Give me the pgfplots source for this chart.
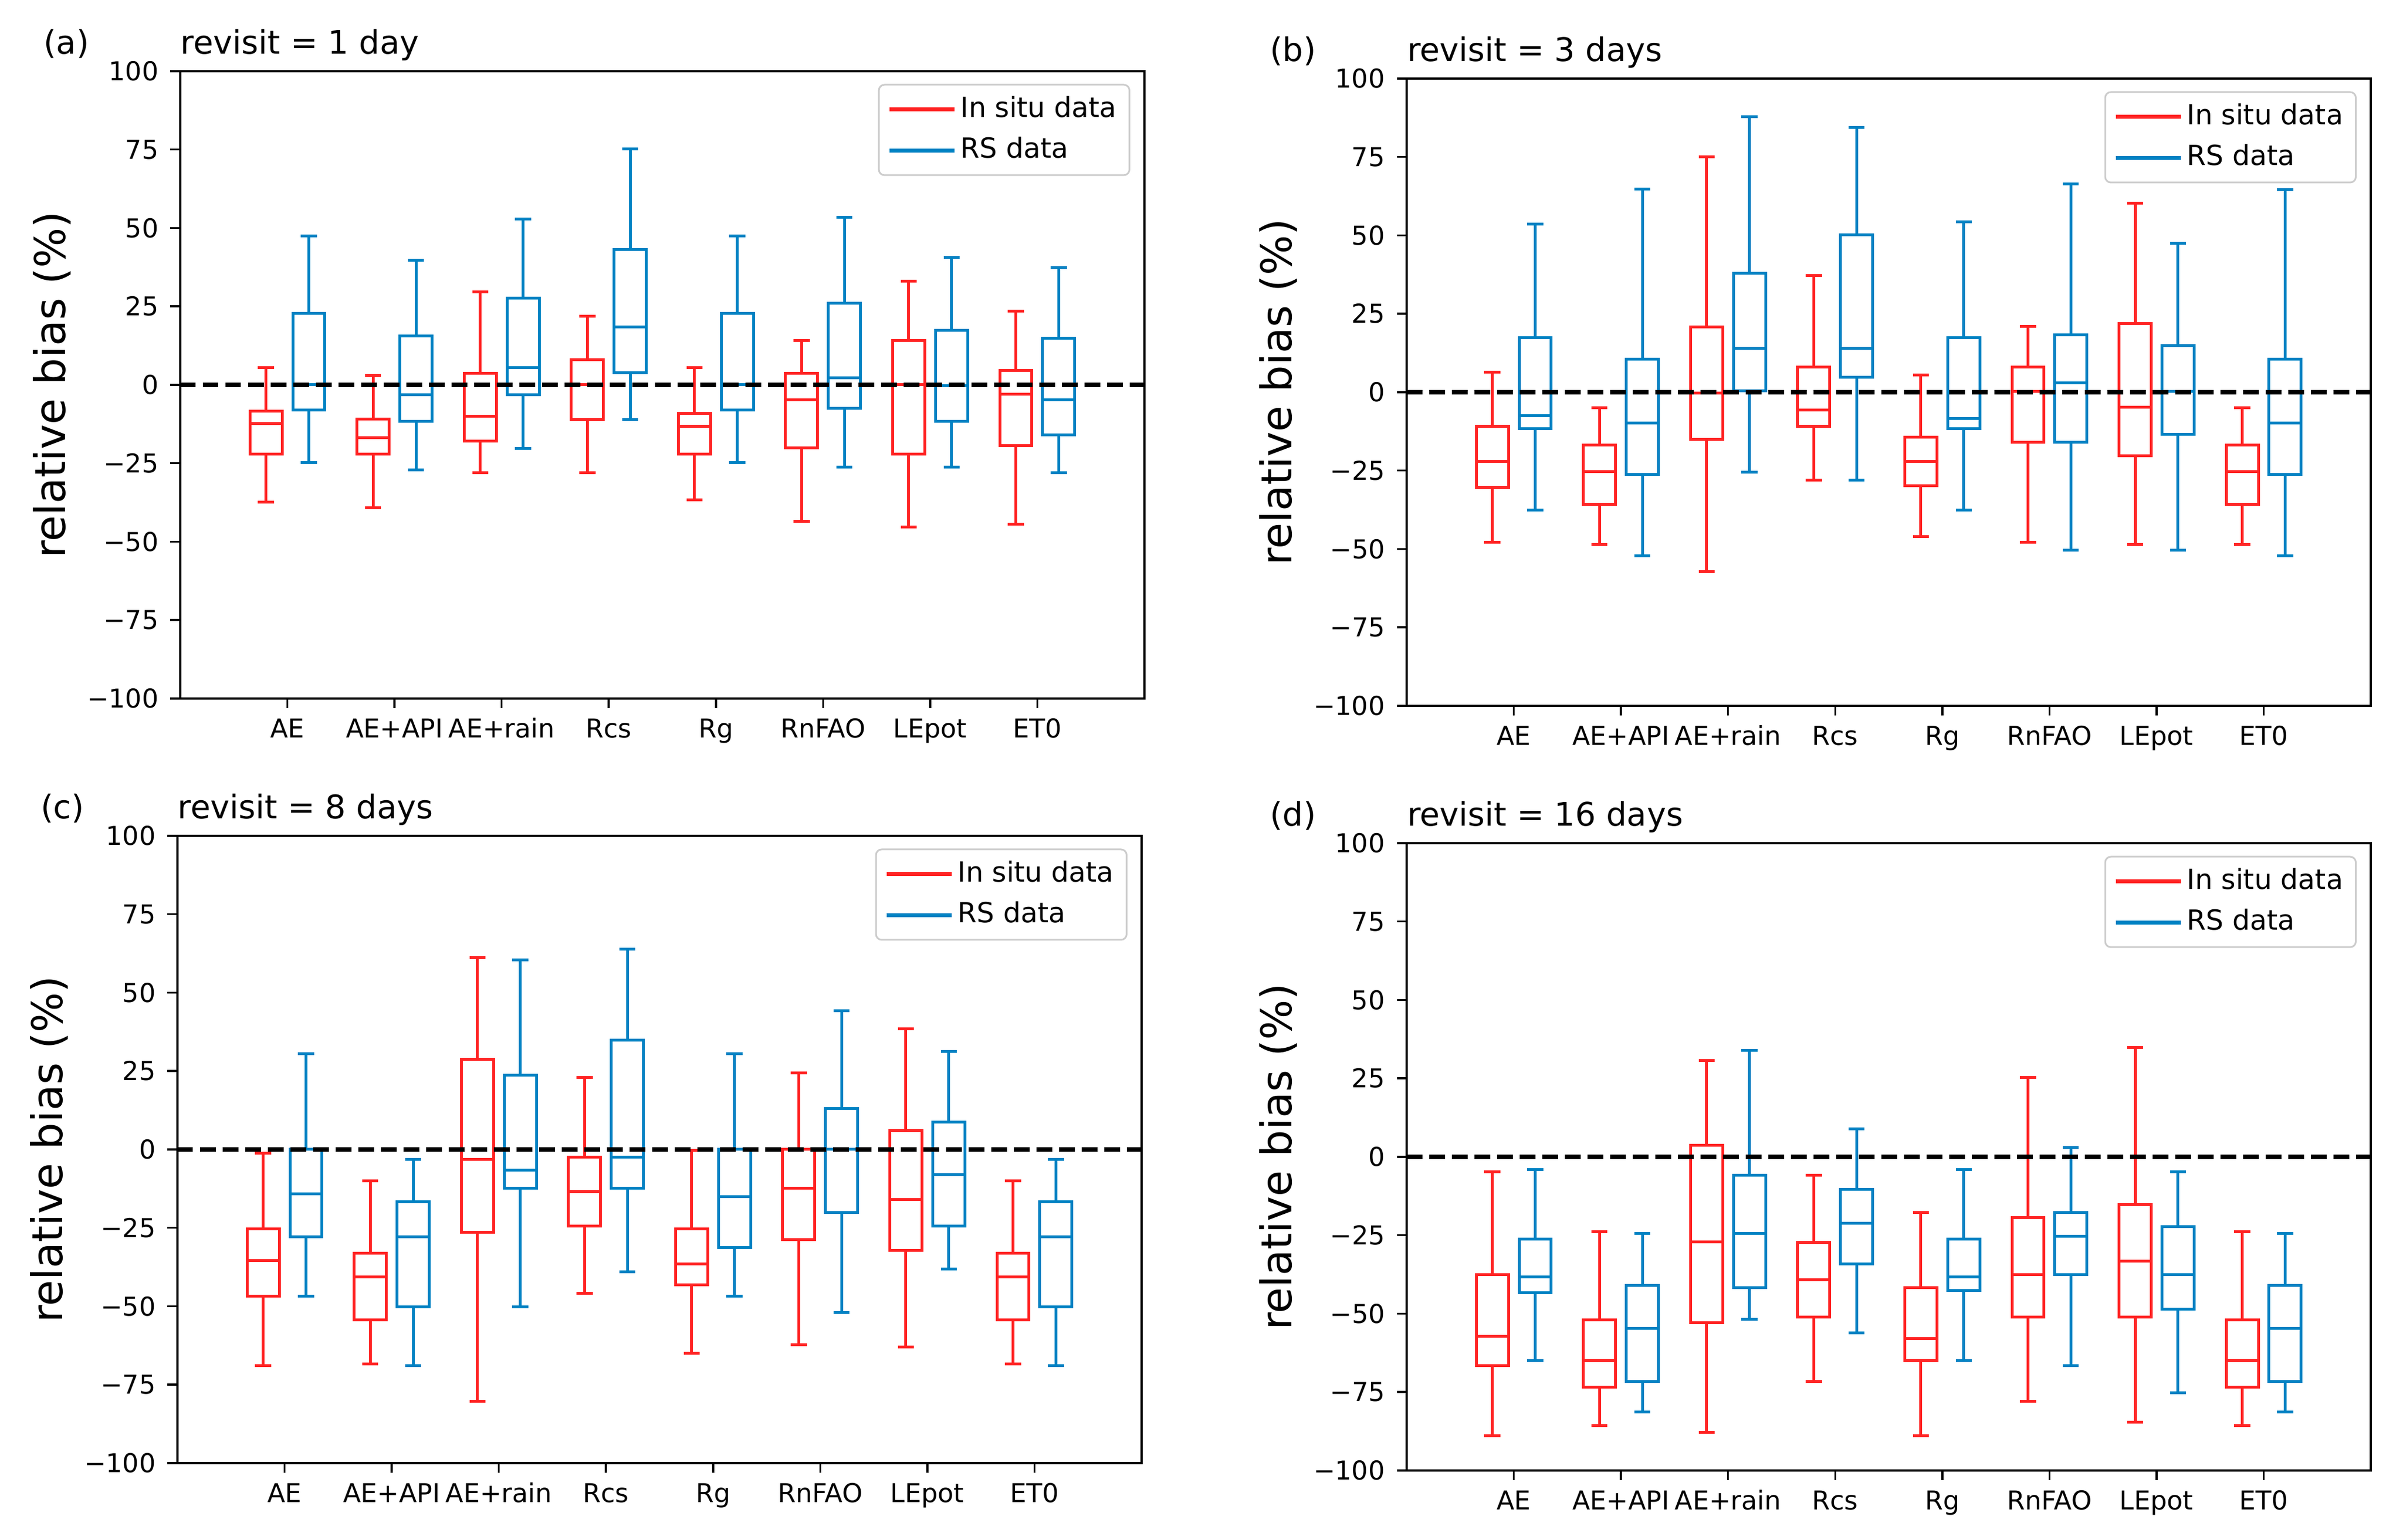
\documentclass[border=0pt]{standalone}
\usepackage{pgfplots}
\pgfplotsset{compat=1.18}
\usepgfplotslibrary{statistics}
\usepackage{fontspec}
\setmainfont{DejaVu Sans}
\definecolor{inred}{RGB}{255,35,35}
\definecolor{rsblue}{RGB}{0,130,195}
\newcommand{\bp}[7]{\addplot[forget plot, draw=#1, line width=1pt, solid, boxplot/draw direction=y, boxplot prepared={draw position=#2, lower whisker=#3, lower quartile=#4, median=#5, upper quartile=#6, upper whisker=#7, box extend=0.3, whisker extend=0.15}] coordinates {};}
\pgfplotsset{
  panel/.style={
    scale only axis, width=341.2pt, height=222pt, anchor=south west,
    xmin=0, xmax=9, ymin=-100, ymax=100,
    clip mode=individual,
    xtick={1,...,8},
    xticklabels={AE,AE+API,AE+rain,Rcs,Rg,RnFAO,LEpot,ET0},
    ytick={-100,-75,-50,-25,0,25,50,75,100},
    yticklabels={−100,−75,−50,−25,0,25,50,75,100},
    tick align=outside, tick pos=left,
    major tick length=3.5pt,
    every tick/.style={black, line width=0.7pt},
    axis line style={black, line width=0.8pt},
    ticklabel style={font=\fontsize{9.2}{11}\selectfont},
    xticklabel style={text height=6.7pt, text depth=2pt, inner ysep=3.6pt},
    yticklabel style={inner xsep=4pt},
    ylabel={relative bias (\%)},
    ylabel style={at={(axis description cs:-0.133,0.5)}, anchor=center, font=\fontsize{15}{18}\selectfont},
    title style={at={(axis description cs:0,1)}, anchor=base west, font=\fontsize{11.5}{14}\selectfont, inner sep=0pt},
    legend style={at={(axis description cs:1,1)}, anchor=north east, xshift=-5pt, yshift=-4.5pt,
      draw=black!20, line width=0.6pt, fill=white, rounded corners=2pt,
      font=\fontsize{9.8}{12}\selectfont, row sep=1pt,
      nodes={inner xsep=1.5pt, inner ysep=2pt, text height=7.5pt, text depth=2pt}},
    legend cell align=left,
    legend image code/.code={\path (0pt,0pt) -- (23pt,0pt); \draw[##1] (0pt,0pt) -- (21pt,0pt);},
  },
  zeroline/.style={forget plot, black, line width=1.6pt, dash pattern=on 5.5pt off 2.5pt},
}
\begin{document}
\begin{tikzpicture}
\useasboundingbox (0,0) rectangle (850.4pt,545pt);
% (a)
\begin{axis}[panel, at={(63.8pt,297.8pt)}, title={revisit = 1 day}]
\bp{inred}{0.8}{-37.4}{-22.1}{-12.3}{-8.3}{5.4}
\bp{inred}{1.8}{-39.2}{-22.1}{-16.8}{-10.9}{3}
\bp{inred}{2.8}{-28.1}{-17.9}{-10}{3.7}{29.7}
\bp{inred}{3.8}{-28.1}{-11}{0}{8}{21.8}
\bp{inred}{4.8}{-36.6}{-22.1}{-13.3}{-9.1}{5.4}
\bp{inred}{5.8}{-43.6}{-20.1}{-4.7}{3.7}{14.1}
\bp{inred}{6.8}{-45.3}{-22.1}{0}{14.1}{33}
\bp{inred}{7.8}{-44.4}{-19.3}{-3}{4.5}{23.5}
\bp{rsblue}{1.2}{-24.7}{-8.1}{0}{22.7}{47.5}
\bp{rsblue}{2.2}{-27.1}{-11.7}{-3.1}{15.6}{39.8}
\bp{rsblue}{3.2}{-20.2}{-3.1}{5.4}{27.7}{52.8}
\bp{rsblue}{4.2}{-11}{3.8}{18.5}{43.1}{75.2}
\bp{rsblue}{5.2}{-24.7}{-8.1}{0}{22.7}{47.5}
\bp{rsblue}{6.2}{-26.3}{-7.5}{2.2}{26}{53.5}
\bp{rsblue}{7.2}{-26.3}{-11.7}{-0.3}{17.4}{40.7}
\bp{rsblue}{8.2}{-28}{-15.9}{-4.7}{14.9}{37.3}
\addplot[zeroline] coordinates {(0,0) (9,0)};
\addlegendimage{inred, line width=1.4pt}\addlegendentry{In situ data}
\addlegendimage{rsblue, line width=1.4pt}\addlegendentry{RS data}
\node[anchor=base west, xshift=-48.5pt, yshift=6pt, font=\fontsize{11.5}{14}\selectfont, inner sep=0pt] at (rel axis cs:0,1) {(a)};
\end{axis}
% (b)
\begin{axis}[panel, at={(497.8pt,295.2pt)}, title={revisit = 3 days}]
\bp{inred}{0.8}{-47.8}{-30.4}{-22}{-10.9}{6.3}
\bp{inred}{1.8}{-48.6}{-35.7}{-25.3}{-16.9}{-5}
\bp{inred}{2.8}{-57.2}{-15}{-0.3}{20.8}{75}
\bp{inred}{3.8}{-28}{-10.9}{-5.6}{8.1}{37.2}
\bp{inred}{4.8}{-46}{-29.8}{-22}{-14.3}{5.5}
\bp{inred}{5.8}{-47.8}{-16}{0.3}{8.1}{20.9}
\bp{inred}{6.8}{-48.6}{-20.2}{-4.8}{21.8}{60.3}
\bp{inred}{7.8}{-48.6}{-35.7}{-25.3}{-16.9}{-5}
\bp{rsblue}{1.2}{-37.5}{-11.6}{-7.4}{17.4}{53.6}
\bp{rsblue}{2.2}{-52.1}{-26.2}{-9.9}{10.6}{64.7}
\bp{rsblue}{3.2}{-25.5}{0.4}{14}{38}{87.9}
\bp{rsblue}{4.2}{-28}{4.7}{14}{50.1}{84.4}
\bp{rsblue}{5.2}{-37.5}{-11.6}{-8.3}{17.4}{54.4}
\bp{rsblue}{6.2}{-50.3}{-16}{2.9}{18.3}{66.4}
\bp{rsblue}{7.2}{-50.3}{-13.5}{0.3}{14.9}{47.4}
\bp{rsblue}{8.2}{-52.1}{-26.2}{-9.9}{10.6}{64.6}
\addplot[zeroline] coordinates {(0,0) (9,0)};
\addlegendimage{inred, line width=1.4pt}\addlegendentry{In situ data}
\addlegendimage{rsblue, line width=1.4pt}\addlegendentry{RS data}
\node[anchor=base west, xshift=-48.5pt, yshift=6pt, font=\fontsize{11.5}{14}\selectfont, inner sep=0pt] at (rel axis cs:0,1) {(b)};
\end{axis}
% (c)
\begin{axis}[panel, at={(62.8pt,27.2pt)}, title={revisit = 8 days}]
\bp{inred}{0.8}{-69}{-46.7}{-35.4}{-25.4}{-1.1}
\bp{inred}{1.8}{-68.3}{-54.4}{-40.7}{-33}{-10}
\bp{inred}{2.8}{-80.3}{-26.4}{-3.1}{28.7}{61.2}
\bp{inred}{3.8}{-45.9}{-24.4}{-13.4}{-2.4}{22.9}
\bp{inred}{4.8}{-64.9}{-43.2}{-36.5}{-25.4}{-0.3}
\bp{inred}{5.8}{-62.2}{-28.7}{-12.4}{0}{24.5}
\bp{inred}{6.8}{-62.9}{-32.1}{-15.9}{6.1}{38.4}
\bp{inred}{7.8}{-68.3}{-54.4}{-40.7}{-33}{-10}
\bp{rsblue}{1.2}{-46.7}{-27.8}{-14.2}{0}{30.5}
\bp{rsblue}{2.2}{-69}{-50.2}{-27.8}{-16.7}{-3.2}
\bp{rsblue}{3.2}{-50.2}{-12.3}{-6.6}{23.7}{60.4}
\bp{rsblue}{4.2}{-39}{-12.3}{-2.4}{34.9}{63.9}
\bp{rsblue}{5.2}{-46.7}{-31.2}{-15.1}{0}{30.5}
\bp{rsblue}{6.2}{-51.9}{-20.1}{0}{13.1}{44.2}
\bp{rsblue}{7.2}{-38.2}{-24.4}{-8.1}{8.8}{31.2}
\bp{rsblue}{8.2}{-69}{-50.2}{-27.8}{-16.7}{-3.2}
\addplot[zeroline] coordinates {(0,0) (9,0)};
\addlegendimage{inred, line width=1.4pt}\addlegendentry{In situ data}
\addlegendimage{rsblue, line width=1.4pt}\addlegendentry{RS data}
\node[anchor=base west, xshift=-48.5pt, yshift=6pt, font=\fontsize{11.5}{14}\selectfont, inner sep=0pt] at (rel axis cs:0,1) {(c)};
\end{axis}
% (d)
\begin{axis}[panel, at={(497.8pt,24.6pt)}, title={revisit = 16 days}]
\bp{inred}{0.8}{-89}{-66.6}{-57.2}{-37.5}{-4.8}
\bp{inred}{1.8}{-85.6}{-73.5}{-64.9}{-52}{-23.8}
\bp{inred}{2.8}{-87.9}{-52.8}{-27.2}{3.7}{30.7}
\bp{inred}{3.8}{-71.7}{-51.1}{-39.2}{-27.3}{-5.9}
\bp{inred}{4.8}{-89}{-64.9}{-58}{-41.8}{-17.7}
\bp{inred}{5.8}{-77.9}{-51.1}{-37.5}{-19.4}{25.4}
\bp{inred}{6.8}{-84.6}{-51.1}{-33.2}{-15.2}{34.9}
\bp{inred}{7.8}{-85.6}{-73.5}{-64.9}{-52}{-23.8}
\bp{rsblue}{1.2}{-64.9}{-43.4}{-38.3}{-26.3}{-4.1}
\bp{rsblue}{2.2}{-81.3}{-71.7}{-54.6}{-41}{-24.5}
\bp{rsblue}{3.2}{-51.8}{-41.7}{-24.4}{-5.9}{33.9}
\bp{rsblue}{4.2}{-56.2}{-34.1}{-21.1}{-10.3}{8.9}
\bp{rsblue}{5.2}{-64.9}{-42.7}{-38.3}{-26.3}{-4.1}
\bp{rsblue}{6.2}{-66.6}{-37.5}{-25.4}{-17.7}{3}
\bp{rsblue}{7.2}{-75.2}{-48.6}{-37.5}{-22.3}{-4.8}
\bp{rsblue}{8.2}{-81.3}{-71.7}{-54.6}{-41}{-24.5}
\addplot[zeroline] coordinates {(0,0) (9,0)};
\addlegendimage{inred, line width=1.4pt}\addlegendentry{In situ data}
\addlegendimage{rsblue, line width=1.4pt}\addlegendentry{RS data}
\node[anchor=base west, xshift=-48.5pt, yshift=6pt, font=\fontsize{11.5}{14}\selectfont, inner sep=0pt] at (rel axis cs:0,1) {(d)};
\end{axis}
\end{tikzpicture}
\end{document}
